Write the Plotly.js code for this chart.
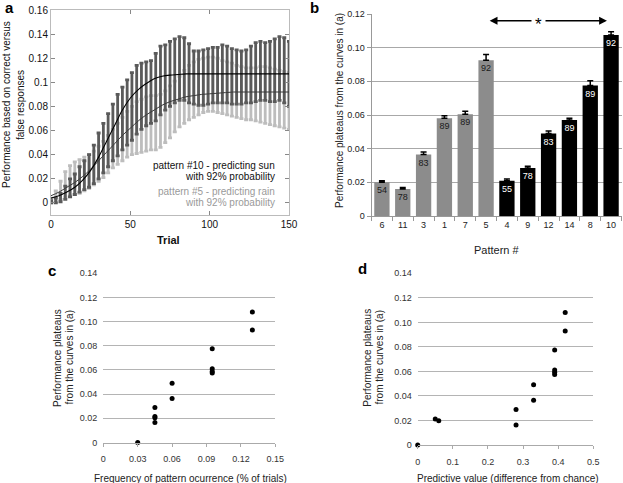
<!DOCTYPE html>
<html><head><meta charset="utf-8">
<script src="https://cdn.plot.ly/plotly-3.0.1.min.js"></script>
<style>html,body{margin:0;padding:0;background:#fff}#chart{width:623px;height:483px}</style>
</head><body><div id="chart"></div>
<script>
// ---------- Panel a: learning curves (mean +/- error envelopes) ----------
const trials = [0,3,6,9,12,15,18,21,24,27,30,33,36,39,42,45,48,51,54,57,60,63,66,69,72,75,78,81,84,87,90,93,96,99,102,105,108,111,114,117,120,123,126,129,132,135,138,141,144,147,150];
const p10Upper = [0.002,0.004,0.008,0.014,0.020,0.024,0.030,0.035,0.040,0.048,0.058,0.066,0.074,0.082,0.090,0.096,0.102,0.108,0.114,0.116,0.117,0.118,0.124,0.130,0.131,0.134,0.136,0.138,0.137,0.132,0.126,0.126,0.127,0.128,0.129,0.129,0.131,0.130,0.128,0.127,0.126,0.127,0.130,0.133,0.134,0.133,0.134,0.136,0.138,0.137,0.134];
const p10Lower = [0,0,0.001,0.003,0.005,0.007,0.009,0.011,0.013,0.016,0.020,0.025,0.030,0.035,0.039,0.044,0.048,0.052,0.057,0.061,0.064,0.066,0.068,0.073,0.077,0.080,0.083,0.085,0.085,0.083,0.082,0.081,0.081,0.082,0.083,0.083,0.083,0.083,0.082,0.082,0.082,0.083,0.083,0.084,0.085,0.085,0.084,0.084,0.085,0.083,0.080];
const p5Upper = [0.004,0.010,0.018,0.026,0.031,0.034,0.036,0.038,0.040,0.043,0.047,0.051,0.056,0.061,0.066,0.071,0.076,0.080,0.084,0.086,0.088,0.089,0.089,0.090,0.093,0.097,0.101,0.105,0.110,0.114,0.117,0.119,0.120,0.121,0.121,0.120,0.118,0.117,0.116,0.114,0.113,0.112,0.112,0.112,0.113,0.113,0.112,0.111,0.110,0.109,0.108];
const p5Lower = [0,0.001,0.003,0.005,0.006,0.007,0.008,0.010,0.012,0.015,0.018,0.021,0.025,0.029,0.032,0.035,0.038,0.040,0.041,0.042,0.043,0.044,0.044,0.046,0.050,0.054,0.059,0.063,0.066,0.069,0.071,0.073,0.075,0.076,0.076,0.075,0.074,0.073,0.072,0.071,0.070,0.069,0.069,0.068,0.067,0.066,0.065,0.064,0.063,0.062,0.061];
const fitTrials = [0,5,10,15,20,25,30,35,40,45,50,55,60,65,70,75,80,85,90,95,100,105,110,115,120,125,130,135,140,145,150];
const fit10 = [0.004,0.006,0.009,0.013,0.019,0.027,0.038,0.051,0.064,0.077,0.087,0.094,0.099,0.103,0.105,0.106,0.1065,0.107,0.107,0.107,0.107,0.107,0.107,0.107,0.107,0.107,0.107,0.107,0.107,0.107,0.107];
const fit5 = [0.006,0.009,0.013,0.017,0.022,0.028,0.035,0.042,0.049,0.056,0.062,0.068,0.073,0.077,0.081,0.084,0.086,0.088,0.089,0.090,0.0905,0.091,0.0915,0.092,0.092,0.092,0.092,0.092,0.092,0.092,0.092];
const aYTicks = [0,0.02,0.04,0.06,0.08,0.1,0.12,0.14,0.16];
const aYLabels = ['0','0.02','0.04','0.06','0.08','0.1','0.12','0.14','0.16'];

// ---------- Panel b: plateaus per pattern ----------
const patterns = ['6','11','3','1','7','5','4','9','12','14','8','10'];
const outcome = ['rain','rain','rain','rain','rain','rain','sun','sun','sun','sun','sun','sun'];
const plateau = [0.020,0.016,0.0365,0.058,0.0605,0.0925,0.021,0.0285,0.049,0.057,0.0775,0.1075];
const plateauErr = [0.001,0.001,0.0015,0.0016,0.0018,0.0035,0.001,0.001,0.0015,0.001,0.0028,0.002];
const percentLabels = ['54','78','83','89','89','92','55','78','83','89','89','92'];
const bYTicks = [0,0.02,0.04,0.06,0.08,0.10,0.12];
const bYLabels = ['0','0.02','0.04','0.06','0.08','0.10','0.12'];

// ---------- Panel c: plateau vs frequency ----------
const freqX = [0.03,0.045,0.045,0.045,0.045,0.06,0.06,0.095,0.095,0.095,0.095,0.13,0.13];
const freqY = [0,0.029,0.0215,0.0205,0.0165,0.049,0.0365,0.0775,0.061,0.0588,0.0575,0.108,0.093];
const cXTicks = [0,0.03,0.06,0.09,0.12,0.15];
const cXLabels = ['0','0.03','0.06','0.09','0.12','0.15'];

// ---------- Panel d: plateau vs predictive value ----------
const predX = [0,0.05,0.06,0.28,0.28,0.33,0.33,0.39,0.39,0.39,0.39,0.42,0.42];
const predY = [0,0.0212,0.0198,0.029,0.0163,0.0492,0.0364,0.0775,0.0612,0.0593,0.0574,0.108,0.093];
const dXTicks = [0,0.1,0.2,0.3,0.4,0.5];
const dXLabels = ['0','0.1','0.2','0.3','0.4','0.5'];
const cdYTicks = [0,0.02,0.04,0.06,0.08,0.10,0.12,0.14];
const cdYLabels = ['0','0.02','0.04','0.06','0.08','0.10','0.12','0.14'];

// ---------- build ----------
const W=623,H=483;
const fx=p=>p/W, fy=p=>1-p/H;
const FONT='Liberation Sans, Arial, sans-serif';

const mid=(u,l)=>u.map((v,i)=>(v+l[i])/2);
const half=(u,l)=>u.map((v,i)=>(v-l[i])/2);

const traces=[
 {x:trials,y:mid(p5Upper,p5Lower),type:'scatter',mode:'markers',marker:{size:1,opacity:0},
  error_y:{type:'data',array:half(p5Upper,p5Lower),color:'#bdbdbd',thickness:2.8,width:2},xaxis:'x',yaxis:'y',hoverinfo:'skip',showlegend:false},
 {x:trials,y:mid(p10Upper,p10Lower),type:'scatter',mode:'markers',marker:{size:1,opacity:0},
  error_y:{type:'data',array:half(p10Upper,p10Lower),color:'#5a5a5a',thickness:2.8,width:2},xaxis:'x',yaxis:'y',hoverinfo:'skip',showlegend:false},
 {x:fitTrials,y:fit5,type:'scatter',mode:'lines',line:{color:'#3a3a3a',width:1,shape:'spline'},xaxis:'x',yaxis:'y',showlegend:false},
 {x:fitTrials,y:fit10,type:'scatter',mode:'lines',line:{color:'#000',width:1.1,shape:'spline'},xaxis:'x',yaxis:'y',showlegend:false},
 {x:patterns,y:plateau,type:'bar',xaxis:'x2',yaxis:'y2',showlegend:false,
  marker:{color:outcome.map(o=>o==='rain'?'#8c8c8c':'#000'),line:{width:0}},
  text:percentLabels,textposition:'inside',insidetextanchor:'end',textangle:0,constraintext:'none',
  textfont:{size:9,family:FONT,color:outcome.map(o=>o==='rain'?'#1a1a1a':'#fff')},
  error_y:{type:'data',symmetric:false,array:plateauErr,arrayminus:plateau.map(()=>0),color:'#000',thickness:1.5,width:3}},
 {x:freqX,y:freqY,type:'scatter',mode:'markers',marker:{size:5,color:'#000'},xaxis:'x3',yaxis:'y3',cliponaxis:false,showlegend:false},
 {x:predX,y:predY,type:'scatter',mode:'markers',marker:{size:5,color:'#000'},xaxis:'x4',yaxis:'y4',cliponaxis:false,showlegend:false}
];

const tf=(s,c)=>({size:s,color:c||'#222',family:FONT});
const layout={
 width:W,height:H,margin:{l:0,r:0,t:0,b:0},paper_bgcolor:'#fff',plot_bgcolor:'rgba(0,0,0,0)',
 font:{family:FONT},bargap:0.265,barmode:'overlay',
 xaxis:{domain:[fx(51),fx(289)],anchor:'y',range:[0,150],tickvals:[0,50,100,150],ticks:'inside',ticklen:4,tickcolor:'#888',
   showline:true,linecolor:'#bbb',mirror:'ticks',showgrid:false,zeroline:false,tickfont:tf(10,'#111')},
 yaxis:{domain:[fy(215),fy(10)],anchor:'x',range:[-0.01,0.16],tickvals:aYTicks,ticktext:aYLabels,ticks:'inside',ticklen:4,tickcolor:'#888',
   showline:true,linecolor:'#bbb',mirror:'ticks',showgrid:false,zeroline:false,tickfont:tf(10,'#111')},
 xaxis2:{domain:[fx(371.5),fx(621.5)],anchor:'y2',type:'category',categoryorder:'array',categoryarray:patterns,range:[-0.5,11.5],
   tickson:'boundaries',ticks:'outside',ticklen:4,tickcolor:'#999',showline:true,linecolor:'#999',showgrid:false,tickfont:tf(9)},
 yaxis2:{domain:[fy(216),fy(14)],anchor:'x2',range:[0,0.12],tickvals:bYTicks,ticktext:bYLabels,ticks:'outside',ticklen:4,tickcolor:'#999',
   showline:true,linecolor:'#999',showgrid:true,gridcolor:'#a8a8a8',zeroline:false,tickfont:tf(9)},
 xaxis3:{domain:[fx(103.3),fx(275.3)],anchor:'y3',range:[0,0.15],tickvals:cXTicks,ticktext:cXLabels,ticks:'outside',ticklen:3,tickcolor:'#aaa',
   showline:true,linecolor:'#aaa',showgrid:false,zeroline:false,tickfont:tf(9,'#333'),ticklabelstandoff:5},
 yaxis3:{domain:[fy(442.5),fy(273.3)],anchor:'x3',range:[0,0.14],tickvals:cdYTicks,ticktext:cdYLabels,ticks:'',showline:false,
   showgrid:true,gridcolor:'#b4b4b4',zeroline:false,tickfont:tf(9,'#333'),ticklabelstandoff:5},
 xaxis4:{domain:[fx(417.7),fx(593.3)],anchor:'y4',range:[0,0.5],tickvals:dXTicks,ticktext:dXLabels,ticks:'outside',ticklen:3,tickcolor:'#aaa',
   showline:true,linecolor:'#aaa',showgrid:false,zeroline:false,tickfont:tf(9,'#333'),ticklabelstandoff:5},
 yaxis4:{domain:[fy(445),fy(273.3)],anchor:'x4',range:[0,0.14],tickvals:cdYTicks,ticktext:cdYLabels,ticks:'',showline:false,
   showgrid:true,gridcolor:'#b4b4b4',zeroline:false,tickfont:tf(9,'#333'),ticklabelstandoff:5},
 annotations:[]
};
const A=layout.annotations;
const pa=(text,x,y,o)=>A.push(Object.assign({text,xref:'paper',yref:'paper',x:fx(x),y:fy(y),showarrow:false,xanchor:'center',yanchor:'middle',font:tf(10)},o||{}));
// panel letters
pa('<b>a</b>',9,8,{font:tf(15,'#000')});
pa('<b>b</b>',314,8,{font:tf(15,'#000')});
pa('<b>c</b>',52,270,{font:tf(15,'#000')});
pa('<b>d</b>',362,268,{font:tf(15,'#000')});
// panel a texts
pa('Performance based on correct versus',7,105,{textangle:-90,font:tf(10,'#111')});
pa('false responses',21,105,{textangle:-90,font:tf(10,'#111')});
pa('<b>Trial</b>',168.5,240,{font:tf(11,'#111')});
pa('pattern #10 - predicting sun',276.5,165.5,{xanchor:'right',font:tf(10,'#111')});
pa('with 92% probability',276.5,176,{xanchor:'right',font:tf(10,'#111')});
pa('pattern #5 - predicting rain',276.5,191.5,{xanchor:'right',font:tf(10,'#9a9a9a')});
pa('with 92% probability',276.5,202.5,{xanchor:'right',font:tf(10,'#9a9a9a')});
// panel b texts
pa('Performance plateaus from the curves in (a)',339,110,{textangle:-90,font:tf(10)});
pa('Pattern #',497,250,{font:tf(11)});
A.push({xref:'x2',yref:'y2',x:10.8,y:0.116,axref:'x2',ayref:'y2',ax:5.1,ay:0.116,text:'',showarrow:true,
  arrowhead:2,startarrowhead:2,arrowside:'end+start',arrowsize:1.2,arrowwidth:1.3,arrowcolor:'#000'});
A.push({xref:'x2',yref:'y2',x:7.5,y:0.116,text:'*',showarrow:false,font:tf(17,'#000'),bgcolor:'#fff',borderpad:3,yshift:-4});
// panel c texts
pa('Performance plateaus',57,358,{textangle:-90});
pa('from the curves in (a)',68.5,358,{textangle:-90});
pa('Frequency of pattern ocurrence (% of trials)',190.5,478);
// panel d texts
pa('Performance plateaus',366.7,358,{textangle:-90});
pa('from the curves in (a)',378.5,358,{textangle:-90});
pa('Predictive value (difference from chance)',508,478);

Plotly.newPlot('chart',traces,layout,{staticPlot:true,displayModeBar:false});
</script></body></html>
